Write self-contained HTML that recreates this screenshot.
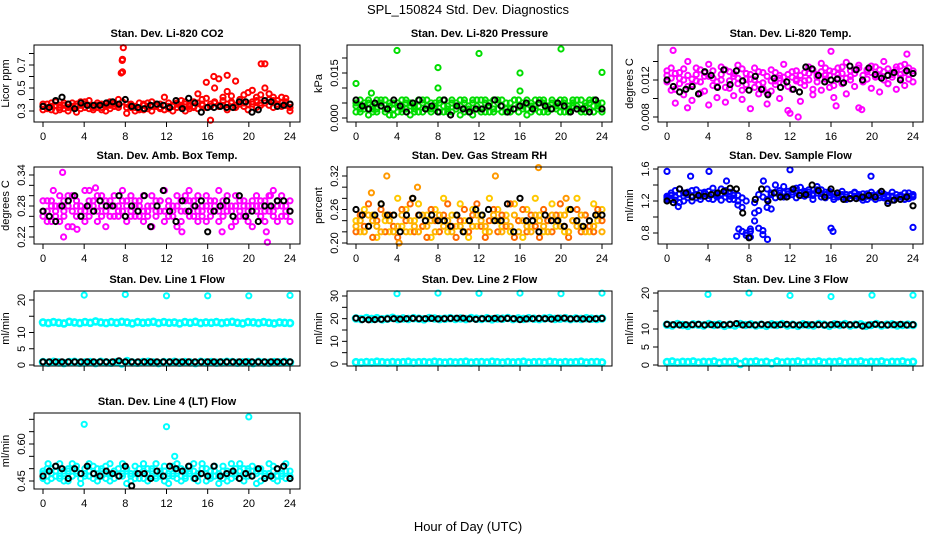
<!DOCTYPE html>
<html><head><meta charset="utf-8"><style>
html,body{margin:0;padding:0;background:#fff;}
svg{display:block;font-family:"Liberation Sans",Arial,sans-serif;}
</style></head><body>
<svg id="chart" width="936" height="540" viewBox="0 0 936 540">
<text x="468" y="14" text-anchor="middle" font-size="13">SPL_150824  Std. Dev. Diagnostics</text>
<text x="468" y="531" text-anchor="middle" font-size="13">Hour of Day (UTC)</text>
</svg>
<script>
var xTicks=[0,4,8,12,16,20,24];
// CO2
var co2A=[0.34,0.36,0.31,0.38,0.33,0.35,0.30,0.37,0.34,0.32,0.36,0.39,0.33,0.35,0.31,0.36,0.38,0.34,0.40,0.64,0.36,0.33,0.30,0.37,0.35,0.32,0.38,0.34,0.36,0.31,0.37,0.35,0.33,0.39,0.36,0.32,0.38,0.45,0.40,0.55,0.36,0.50,0.58,0.42,0.47,0.38,0.56,0.40,0.44,0.36,0.48,0.42,0.37,0.50,0.45,0.39,0.36,0.42,0.38,0.33];
var co2B=[0.31,0.33,0.37,0.30,0.35,0.32,0.36,0.33,0.29,0.35,0.38,0.32,0.34,0.37,0.33,0.30,0.35,0.36,0.33,0.75,0.28,0.35,0.33,0.31,0.36,0.34,0.30,0.35,0.33,0.42,0.32,0.34,0.37,0.33,0.30,0.35,0.34,0.32,0.35,0.33,0.22,0.37,0.34,0.35,0.31,0.37,0.33,0.36,0.34,0.31,0.38,0.33,0.35,0.71,0.40,0.33,0.36,0.34,0.41,0.30];
var co2C=[0.36,0.32,0.34,0.35,0.31,0.37,0.33,0.34,0.36,0.38,0.33,0.35,0.31,0.33,0.36,0.34,0.32,0.37,0.35,0.38,0.33,0.36,0.34,0.32,0.31,0.37,0.34,0.36,0.32,0.35,0.34,0.30,0.36,0.35,0.38,0.34,0.33,0.37,0.36,0.41,0.34,0.38,0.35,0.39,0.36,0.43,0.35,0.38,0.37,0.46,0.36,0.39,0.44,0.37,0.35,0.42,0.39,0.37,0.35,0.36];
var co2OutX=[7.6,7.7,7.8,16.6,17.9,21.2];
var co2OutY=[0.63,0.74,0.85,0.60,0.61,0.71];
var co2Blk=[0.34,0.33,0.39,0.42,0.36,0.32,0.37,0.35,0.35,0.35,0.37,0.38,0.36,0.40,0.34,0.33,0.32,0.35,0.36,0.35,0.33,0.39,0.32,0.41,0.37,0.29,0.33,0.33,0.34,0.33,0.33,0.38,0.38,0.29,0.31,0.39,0.38,0.34,0.35,0.36];
// Pressure
var prA=[0.004,0.006,0.003,0.005,0.002,0.006,0.004,0.003,0.005,0.001,0.004,0.006,0.003,0.005,0.002,0.004,0.006,0.003,0.005,0.004,0.002,0.006,0.003,0.005,0.004,0.001,0.006,0.003,0.005,0.004,0.006,0.002,0.005,0.003,0.006,0.004,0.002,0.005,0.003,0.006,0.004,0.001,0.005,0.003,0.006,0.002,0.004,0.005,0.003,0.006,0.002,0.004,0.005,0.003,0.006,0.002,0.005,0.004,0.003,0.005];
var prB=[0.002,0.003,0.005,0.001,0.004,0.003,0.006,0.002,0.004,0.005,0.002,0.003,0.005,0.001,0.004,0.006,0.002,0.004,0.003,0.005,0.006,0.002,0.004,0.002,0.005,0.006,0.002,0.004,0.001,0.006,0.003,0.005,0.002,0.006,0.003,0.002,0.005,0.003,0.006,0.002,0.005,0.003,0.004,0.006,0.002,0.005,0.003,0.006,0.004,0.002,0.005,0.003,0.006,0.004,0.002,0.005,0.003,0.006,0.004,0.002];
var prC=[0.005,0.002,0.004,0.006,0.003,0.002,0.005,0.006,0.001,0.003,0.005,0.002,0.006,0.004,0.003,0.002,0.005,0.006,0.002,0.003,0.005,0.004,0.002,0.006,0.003,0.004,0.005,0.002,0.006,0.003,0.002,0.006,0.004,0.002,0.005,0.006,0.003,0.002,0.006,0.004,0.003,0.006,0.002,0.004,0.005,0.006,0.002,0.003,0.005,0.004,0.006,0.002,0.004,0.006,0.003,0.004,0.006,0.002,0.005,0.003];
var prOutX=[0,4,8,8,12,16,16,20,24,1.5];
var prOutY=[0.0115,0.0225,0.0168,0.0100,0.0215,0.0150,0.0090,0.0230,0.0152,0.0083];
var prBlk=[0.006,0.004,0.003,0.005,0.004,0.003,0.006,0.004,0.002,0.005,0.006,0.003,0.004,0.002,0.006,0.001,0.004,0.003,0.002,0.003,0.003,0.004,0.006,0.004,0.002,0.003,0.004,0.005,0.003,0.005,0.004,0.003,0.005,0.004,0.002,0.003,0.003,0.002,0.006,0.003];
// Li-820 Temp
var tpA=[0.0125,0.0133,0.0110,0.0128,0.0120,0.0140,0.0115,0.0126,0.0131,0.0108,0.0137,0.0122,0.0118,0.0134,0.0112,0.0129,0.0124,0.0136,0.0109,0.0127,0.0121,0.0133,0.0115,0.0128,0.0106,0.0131,0.0119,0.0125,0.0137,0.0113,0.0123,0.0130,0.0117,0.0128,0.0134,0.0110,0.0126,0.0138,0.0121,0.0130,0.0114,0.0133,0.0127,0.0139,0.0120,0.0131,0.0136,0.0118,0.0129,0.0135,0.0123,0.0131,0.0140,0.0116,0.0128,0.0134,0.0122,0.0137,0.0126,0.0130];
var tpB=[0.0118,0.0109,0.0095,0.0122,0.0104,0.0113,0.0098,0.0119,0.0106,0.0124,0.0093,0.0114,0.0101,0.0120,0.0096,0.0111,0.0103,0.0116,0.0099,0.0121,0.0089,0.0112,0.0105,0.0117,0.0094,0.0108,0.0115,0.0100,0.0123,0.0087,0.0110,0.0119,0.0097,0.0114,0.0120,0.0104,0.0118,0.0109,0.0125,0.0112,0.0101,0.0122,0.0116,0.0105,0.0124,0.0113,0.0090,0.0119,0.0121,0.0111,0.0125,0.0107,0.0120,0.0116,0.0123,0.0110,0.0126,0.0114,0.0121,0.0118];
var tpC=[0.0130,0.0122,0.0127,0.0116,0.0132,0.0125,0.0121,0.0133,0.0118,0.0128,0.0124,0.0130,0.0113,0.0126,0.0131,0.0119,0.0127,0.0122,0.0132,0.0115,0.0126,0.0120,0.0129,0.0111,0.0124,0.0119,0.0128,0.0122,0.0116,0.0126,0.0129,0.0121,0.0125,0.0119,0.0127,0.0131,0.0123,0.0129,0.0133,0.0125,0.0129,0.0126,0.0134,0.0122,0.0130,0.0127,0.0133,0.0125,0.0131,0.0128,0.0134,0.0124,0.0129,0.0132,0.0126,0.0131,0.0135,0.0128,0.0133,0.0127];
var tpOutX=[0.6,2,12,12.8,16,16.5,19,23.4];
var tpOutY=[0.0152,0.0090,0.0084,0.0080,0.0151,0.0092,0.0088,0.0148];
var tpBlk=[0.0120,0.0113,0.0107,0.0110,0.0113,0.0105,0.0129,0.0125,0.0112,0.0131,0.0115,0.0130,0.0119,0.0109,0.0124,0.0110,0.0104,0.0122,0.0112,0.0118,0.0110,0.0107,0.0134,0.0132,0.0125,0.0118,0.0120,0.0121,0.0117,0.0135,0.0131,0.0120,0.0133,0.0126,0.0122,0.0125,0.0128,0.0120,0.0130,0.0127];
// Amb Box Temp
var abA=[0.27,0.29,0.25,0.28,0.30,0.26,0.28,0.24,0.29,0.27,0.31,0.26,0.28,0.25,0.30,0.27,0.29,0.26,0.28,0.31,0.25,0.27,0.29,0.26,0.30,0.28,0.24,0.29,0.27,0.31,0.26,0.28,0.30,0.25,0.27,0.29,0.26,0.30,0.28,0.25,0.29,0.27,0.31,0.26,0.28,0.24,0.30,0.27,0.29,0.25,0.28,0.30,0.26,0.29,0.27,0.31,0.25,0.28,0.26,0.29];
var abB=[0.26,0.25,0.29,0.27,0.25,0.29,0.24,0.30,0.26,0.28,0.25,0.29,0.27,0.30,0.26,0.24,0.28,0.30,0.26,0.27,0.29,0.30,0.26,0.28,0.25,0.27,0.30,0.26,0.29,0.25,0.28,0.26,0.24,0.29,0.30,0.26,0.28,0.25,0.27,0.30,0.26,0.29,0.25,0.28,0.30,0.27,0.25,0.29,0.26,0.28,0.24,0.27,0.29,0.25,0.30,0.26,0.28,0.30,0.27,0.25];
var abC=[0.29,0.27,0.28,0.26,0.28,0.27,0.30,0.27,0.28,0.26,0.27,0.28,0.29,0.27,0.28,0.29,0.26,0.28,0.27,0.29,0.28,0.26,0.28,0.29,0.27,0.26,0.28,0.27,0.29,0.27,0.29,0.27,0.28,0.27,0.29,0.27,0.29,0.27,0.26,0.28,0.27,0.28,0.27,0.29,0.27,0.28,0.28,0.26,0.28,0.27,0.29,0.28,0.28,0.27,0.28,0.27,0.29,0.26,0.28,0.27];
var abOutX=[1.0,1.9,2.0,4.5,5.1,3.3,13.5,14.2,17.4,21.8,21.7,22.1];
var abOutY=[0.31,0.345,0.22,0.31,0.315,0.235,0.23,0.31,0.23,0.21,0.23,0.30];
var abBlk=[0.27,0.26,0.25,0.28,0.29,0.30,0.26,0.28,0.27,0.29,0.28,0.28,0.30,0.26,0.28,0.27,0.30,0.24,0.28,0.31,0.27,0.25,0.29,0.27,0.28,0.29,0.23,0.27,0.28,0.29,0.26,0.30,0.26,0.27,0.25,0.28,0.28,0.29,0.29,0.27];
// Gas Stream RH
var rhA=[0.24,0.22,0.26,0.23,0.25,0.21,0.27,0.24,0.22,0.25,0.28,0.23,0.26,0.22,0.24,0.27,0.23,0.25,0.21,0.26,0.24,0.28,0.22,0.25,0.23,0.27,0.24,0.21,0.26,0.23,0.25,0.22,0.28,0.24,0.26,0.23,0.25,0.22,0.27,0.24,0.21,0.26,0.23,0.28,0.25,0.22,0.24,0.27,0.23,0.25,0.22,0.26,0.24,0.28,0.23,0.25,0.22,0.27,0.24,0.26];
var rhB=[0.22,0.25,0.23,0.27,0.21,0.24,0.26,0.22,0.25,0.23,0.21,0.26,0.24,0.27,0.22,0.25,0.23,0.21,0.26,0.24,0.22,0.25,0.27,0.23,0.21,0.24,0.26,0.22,0.25,0.27,0.23,0.21,0.24,0.26,0.22,0.25,0.23,0.27,0.21,0.24,0.26,0.22,0.25,0.23,0.21,0.26,0.24,0.22,0.25,0.27,0.23,0.21,0.24,0.26,0.22,0.25,0.23,0.22,0.26,0.24];
var rhC=[0.23,0.24,0.22,0.25,0.24,0.23,0.22,0.25,0.24,0.22,0.23,0.25,0.22,0.24,0.23,0.22,0.25,0.23,0.24,0.22,0.25,0.23,0.24,0.22,0.25,0.23,0.22,0.24,0.23,0.25,0.24,0.23,0.22,0.25,0.24,0.22,0.24,0.23,0.25,0.22,0.24,0.23,0.22,0.25,0.24,0.23,0.22,0.25,0.24,0.23,0.25,0.22,0.24,0.23,0.25,0.22,0.24,0.23,0.25,0.22];
var rhOutX=[1.5,3.0,4.2,5.5,6.0,13.6,17.8,20.5];
var rhOutY=[0.29,0.32,0.20,0.28,0.30,0.32,0.335,0.28];
var rhBlk=[0.26,0.25,0.23,0.25,0.27,0.25,0.25,0.22,0.25,0.28,0.25,0.24,0.25,0.24,0.24,0.23,0.25,0.22,0.24,0.26,0.25,0.26,0.24,0.24,0.27,0.22,0.28,0.24,0.24,0.22,0.25,0.24,0.24,0.23,0.26,0.24,0.23,0.24,0.25,0.25];
// Sample Flow
var sfA=[1.22,1.30,1.25,1.35,1.20,1.28,1.33,1.24,1.30,1.26,1.32,1.22,1.29,1.35,1.25,1.31,1.27,1.20,1.12,0.80,0.75,0.95,1.28,0.78,1.35,1.10,1.40,1.30,1.25,1.32,1.28,1.36,1.30,1.26,1.34,1.29,1.38,1.25,1.31,1.27,1.22,1.30,1.25,1.28,1.23,1.30,1.26,1.21,1.29,1.25,1.22,1.30,1.24,1.27,1.21,1.28,1.25,1.30,1.23,1.27];
var sfB=[1.26,1.22,1.33,1.18,1.30,1.24,1.20,1.34,1.22,1.31,1.23,1.36,1.25,1.21,1.33,1.22,1.30,1.15,0.82,0.77,0.85,1.05,0.86,0.83,1.12,1.30,1.24,1.33,1.38,1.26,1.34,1.24,1.37,1.32,1.28,1.22,1.30,1.34,1.24,1.32,1.29,1.25,1.32,1.22,1.28,1.31,1.24,1.29,1.22,1.31,1.27,1.24,1.29,1.20,1.31,1.24,1.27,1.22,1.30,1.25];
var sfC=[1.24,1.27,1.21,1.29,1.26,1.31,1.25,1.28,1.26,1.29,1.27,1.30,1.27,1.29,1.30,1.26,1.22,1.27,1.24,1.20,0.82,1.18,1.08,1.25,1.22,1.28,1.31,1.27,1.30,1.29,1.31,1.33,1.27,1.30,1.31,1.27,1.34,1.29,1.28,1.30,1.25,1.27,1.28,1.25,1.27,1.26,1.28,1.24,1.26,1.27,1.25,1.27,1.26,1.25,1.26,1.24,1.27,1.25,1.26,1.28];
var sfOutX=[0,1.1,2.3,4.1,5.8,6.8,9.4,12.0,16,16.2,19.9,24.0,7.0,9.8];
var sfOutY=[1.57,1.13,1.51,1.57,1.45,0.76,1.45,1.59,0.86,0.82,1.51,0.87,0.85,0.72];
var sfBlk=[1.20,1.18,1.35,1.30,1.25,1.27,1.26,1.28,1.30,1.32,1.36,1.35,1.05,0.74,1.22,1.35,1.20,1.30,1.25,1.25,1.35,1.27,1.28,1.40,1.33,1.25,1.35,1.30,1.22,1.23,1.23,1.25,1.27,1.25,1.32,1.17,1.21,1.22,1.25,1.14];
// Line 1
var l1Hi=[13.1,12.9,13.2,13.0,12.8,13.3,13.1,12.9,13.2,13.0,13.4,13.1,12.9,13.2,13.0,13.3,13.1,12.8,13.2,13.0,13.1,13.3,12.9,13.2,13.0,13.1,12.8,13.2,13.0,13.3,12.9,13.1,13.0,13.2,12.9,13.1,13.3,13.0,12.8,13.2,13.1,12.9,13.2,13.0,12.8,13.1,13.0,12.9];
var l1Lo=[0.9,0.7,1.0,0.8,0.6,0.9,1.0,0.7,0.8,0.9,0.6,1.0,0.8,0.7,0.9,0.5,1.2,0.8,0.7,0.9,1.0,0.8,0.6,0.9,0.8,1.0,0.7,0.9,0.8,0.6,1.0,0.8,0.9,0.7,0.8,1.0,0.9,0.7,0.8,0.9,0.6,1.0,0.8,0.7,0.9,0.8,1.0,0.8];
var l1OutX=[4,8,12,16,20,24];
var l1OutY=[21.5,21.7,21.3,21.3,21.3,21.4];
var l1Blk=[1.0,1.0,1.0,1.0,1.0,1.0,1.0,1.0,1.0,1.0,1.0,1.0,1.3,1.0,1.0,1.0,1.0,1.0,1.0,1.0,1.0,1.0,1.0,1.0,1.0,1.0,1.0,1.0,1.0,1.0,1.0,1.0,1.0,1.0,1.0,1.0,1.0,1.0,1.0,1.0];
// Line 2
var l2Hi=[20.1,19.8,20.3,19.9,20.2,19.7,20.0,20.4,19.8,20.1,19.9,20.2,20.0,19.7,20.3,20.1,19.8,20.0,20.2,19.9,20.1,19.8,20.3,20.0,19.9,20.2,19.7,20.1,20.0,20.3,19.8,20.1,19.9,20.2,20.0,19.8,20.1,20.3,19.9,20.0,20.2,19.8,20.1,19.9,20.2,20.0,19.9,20.1];
var l2Lo=[0.8,0.6,0.9,0.7,1.0,0.8,0.6,0.9,0.7,0.8,1.0,0.6,0.8,0.9,0.7,1.0,0.8,0.6,0.9,0.7,0.8,1.0,0.6,0.8,0.9,0.7,1.0,0.8,0.6,0.9,0.7,0.8,1.0,0.6,0.8,0.9,0.7,1.0,0.8,0.6,0.9,0.7,0.8,1.0,0.6,0.8,0.9,0.7];
var l2OutX=[4,8,12,16,20,24];
var l2OutY=[31.0,31.3,31.2,31.3,31.0,31.3];
var l2Blk=[20.2,19.6,19.5,19.6,19.7,19.9,20.0,19.8,20.0,20.1,20.0,20.0,20.1,19.9,20.0,20.1,20.2,20.2,19.9,19.7,20.0,20.0,20.1,19.9,20.1,20.0,19.6,19.9,20.0,20.1,20.0,19.8,20.2,20.2,19.9,20.0,19.9,19.8,20.0,20.1];
// Line 3
var l3Hi=[11.2,11.0,11.4,11.1,10.9,11.3,11.2,11.0,11.4,11.1,11.3,10.9,11.2,11.0,11.4,11.1,11.3,11.0,11.2,10.9,11.3,11.1,11.4,11.0,11.2,10.9,11.3,11.1,11.0,11.4,11.2,10.9,11.3,11.1,11.4,11.0,11.2,11.3,10.9,11.1,11.4,11.0,11.2,11.3,11.0,11.1,11.2,11.1];
var l3Lo=[0.8,1.0,0.7,0.9,0.8,1.0,0.7,0.9,0.8,1.0,0.6,0.9,0.8,1.0,0.3,0.9,0.8,1.0,0.7,0.9,0.5,1.0,0.7,0.9,0.8,1.0,0.7,0.9,0.8,1.0,0.7,0.9,0.8,1.0,0.7,0.9,0.8,1.0,0.7,0.9,0.8,1.0,0.7,0.9,0.8,1.0,0.7,0.9];
var l3OutX=[4,8,12,16,20,24];
var l3OutY=[19.6,20.0,19.3,19.0,19.4,19.4];
var l3Blk=[11.3,11.2,11.1,11.2,11.2,11.3,11.1,11.2,11.1,11.2,11.3,11.5,11.1,11.2,11.1,11.3,11.2,11.1,11.2,11.3,11.2,11.1,11.2,11.2,11.2,11.1,11.2,11.3,11.1,11.2,11.2,10.8,11.1,11.3,11.2,11.1,11.2,11.3,11.1,11.2];
// Line 4 (LT)
var l4A=[0.48,0.50,0.46,0.51,0.47,0.49,0.45,0.52,0.48,0.46,0.50,0.47,0.51,0.45,0.49,0.48,0.52,0.46,0.50,0.47,0.49,0.45,0.51,0.48,0.46,0.50,0.47,0.52,0.49,0.45,0.48,0.51,0.46,0.50,0.47,0.49,0.52,0.45,0.48,0.50,0.46,0.51,0.47,0.49,0.45,0.52,0.48,0.46,0.50,0.47,0.51,0.49,0.45,0.48,0.52,0.46,0.50,0.47,0.49,0.46];
var l4B=[0.46,0.45,0.50,0.47,0.52,0.45,0.49,0.47,0.51,0.44,0.48,0.52,0.46,0.50,0.47,0.51,0.45,0.49,0.47,0.52,0.44,0.48,0.46,0.50,0.52,0.45,0.49,0.46,0.47,0.51,0.44,0.47,0.52,0.45,0.49,0.51,0.46,0.48,0.52,0.45,0.49,0.47,0.44,0.51,0.48,0.46,0.50,0.52,0.45,0.49,0.47,0.44,0.50,0.46,0.48,0.51,0.45,0.49,0.52,0.47];
var l4C=[0.49,0.47,0.48,0.49,0.46,0.48,0.50,0.47,0.49,0.48,0.47,0.49,0.48,0.47,0.50,0.46,0.48,0.49,0.47,0.48,0.50,0.47,0.48,0.46,0.49,0.48,0.50,0.47,0.48,0.49,0.47,0.48,0.49,0.47,0.46,0.48,0.49,0.47,0.50,0.48,0.47,0.49,0.48,0.46,0.49,0.48,0.47,0.49,0.48,0.50,0.47,0.48,0.49,0.47,0.48,0.49,0.47,0.48,0.46,0.49];
var l4OutX=[4,12,12.8,20,0.5];
var l4OutY=[0.68,0.67,0.55,0.71,0.52];
var l4Blk=[0.47,0.49,0.51,0.50,0.46,0.50,0.48,0.51,0.48,0.47,0.49,0.48,0.47,0.51,0.43,0.48,0.48,0.46,0.49,0.47,0.51,0.50,0.49,0.51,0.46,0.48,0.47,0.51,0.47,0.48,0.49,0.46,0.48,0.47,0.50,0.46,0.47,0.50,0.51,0.46];

var NS='http://www.w3.org/2000/svg';
var svg=document.getElementById('chart');
function mk(tag,attrs,parent){var e=document.createElementNS(NS,tag);for(var k in attrs)e.setAttribute(k,attrs[k]);(parent||svg).appendChild(e);return e;}

function panel(p){
  var g=mk('g',{});
  
  
  var bx0=p.box[0],bx1=p.box[1],by0=p.box[2],by1=p.box[3];
  var px0=bx0+9,px1=bx1-10;
  function X(h){return px0+(px1-px0)*h/24;}
  function Y(v){return p.r1[1]+(v-p.r1[0])*(p.r2[1]-p.r1[1])/(p.r2[0]-p.r1[0]);}
  var t=mk('text',{x:(bx0+bx1)/2,y:by0-8,'text-anchor':'middle','font-size':11,'font-weight':'bold'},g);
  t.textContent=p.title;
  
  
  function series(xs,ys,col,r,sw){
    for(var i=0;i<ys.length;i++){
      var h=xs?xs[i]:24*i/(ys.length-1);
      var c=mk('circle',{cx:X(h).toFixed(1),cy:Y(ys[i]).toFixed(1),r:r||2.6,fill:'none',stroke:col,'stroke-width':sw||2},g);
      
      
    }
  }
  p.series.forEach(function(s){series(s.x||null,s.y,s.c,s.r,s.w);});
  var b=mk('rect',{x:bx0,y:by0,width:bx1-bx0,height:by1-by0,fill:'none',stroke:'#000','stroke-width':1},g);
  
  
  mk('line',{x1:X(0),x2:X(24),y1:by1,y2:by1,stroke:'#000'},g);
  xTicks.forEach(function(h){
    mk('line',{x1:X(h),x2:X(h),y1:by1,y2:by1+5,stroke:'#000'},g);
    if(p.xlab){var tl=mk('text',{x:X(h),y:by1+18,'text-anchor':'middle','font-size':11},g);tl.textContent=h;
      
      }
  });
  mk('line',{x1:bx0,x2:bx0,y1:Y(p.yt[0]),y2:Y(p.yt[p.yt.length-1]),stroke:'#000'},g);
  p.yt.forEach(function(v,i){
    var yy=Y(v);
    mk('line',{x1:bx0-5,x2:bx0,y1:yy,y2:yy,stroke:'#000'},g);
    if(p.yl[i]){var tl=mk('text',{x:bx0-9,y:yy,'text-anchor':'middle','font-size':11,transform:'rotate(-90 '+(bx0-9)+' '+yy+')'},g);tl.textContent=p.yl[i];
      
      }
  });
  var yc=(by0+by1)/2;
  var yt=mk('text',{x:bx0-25,y:yc,'text-anchor':'middle','font-size':11,transform:'rotate(-90 '+(bx0-25)+' '+yc+')'},g);
  yt.textContent=p.ylab;
  
  
}
var C1=[34,300],C2=[347,612],C3=[658,923];
var R1=[45,122],R2=[167,244],R3=[291,366],R4=[413,489];
panel({name:'panel-co2',title:'Stan. Dev. Li-820 CO2',box:C1.concat(R1),r1:[0.3,111],r2:[0.7,65],yt:[0.3,0.4,0.5,0.6,0.7,0.8],yl:['0.3','','0.5','','0.7',''],ylab:'Licor ppm',xlab:true,
 series:[{y:co2A,c:'#ff0000'},{y:co2B,c:'#ff0000'},{y:co2C,c:'#ff0000'},{x:co2OutX,y:co2OutY,c:'#ff0000'},{y:co2Blk,c:'#000'}]});
panel({name:'panel-pressure',title:'Stan. Dev. Li-820 Pressure',box:C2.concat(R1),r1:[0,118],r2:[0.015,73],yt:[0,0.005,0.01,0.015,0.02],yl:['0.000','','','0.015',''],ylab:'kPa',xlab:true,
 series:[{y:prA,c:'#00dd00'},{y:prB,c:'#00dd00'},{y:prC,c:'#00dd00'},{x:prOutX,y:prOutY,c:'#00dd00'},{y:prBlk,c:'#000'}]});
panel({name:'panel-li820-temp',title:'Stan. Dev. Li-820 Temp.',box:C3.concat(R1),r1:[0.008,117],r2:[0.012,80],yt:[0.008,0.010,0.012,0.014],yl:['0.008','','0.012',''],ylab:'degrees C',xlab:true,
 series:[{y:tpA,c:'#ff00ff'},{y:tpB,c:'#ff00ff'},{y:tpC,c:'#ff00ff'},{x:tpOutX,y:tpOutY,c:'#ff00ff'},{y:tpBlk,c:'#000'}]});
panel({name:'panel-amb-box-temp',title:'Stan. Dev. Amb. Box Temp.',box:C1.concat(R2),r1:[0.22,237],r2:[0.34,175],yt:[0.22,0.24,0.26,0.28,0.30,0.32,0.34],yl:['0.22','','','0.28','','','0.34'],ylab:'degrees C',xlab:true,
 series:[{y:abA,c:'#ff00ff'},{y:abB,c:'#ff00ff'},{y:abC,c:'#ff00ff'},{x:abOutX,y:abOutY,c:'#ff00ff'},{y:abBlk,c:'#000'}]});
panel({name:'panel-gas-stream-rh',title:'Stan. Dev. Gas Stream RH',box:C2.concat(R2),r1:[0.20,243],r2:[0.32,176],yt:[0.20,0.22,0.24,0.26,0.28,0.30,0.32],yl:['0.20','','','0.26','','','0.32'],ylab:'percent',xlab:true,
 series:[{y:rhA,c:'#ffc800'},{y:rhB,c:'#ff6a00'},{y:rhC,c:'#ffb000'},{x:rhOutX,y:rhOutY,c:'#ff9900'},{y:rhBlk,c:'#000'}]});
panel({name:'panel-sample-flow',title:'Stan. Dev. Sample Flow',box:C3.concat(R2),r1:[0.8,233],r2:[1.6,169],yt:[0.8,1.0,1.2,1.4,1.6],yl:['0.8','','1.2','','1.6'],ylab:'ml/min',xlab:true,
 series:[{y:sfA,c:'#0000ff'},{y:sfB,c:'#0000ff'},{y:sfC,c:'#0000ff'},{x:sfOutX,y:sfOutY,c:'#0000ff'},{y:sfBlk,c:'#000'}]});
panel({name:'panel-line1-flow',title:'Stan. Dev. Line 1 Flow',box:C1.concat(R3),r1:[0,365],r2:[20,300],yt:[0,5,10,15,20],yl:['0','5','10','','20'],ylab:'ml/min',xlab:false,
 series:[{y:l1Hi,c:'#00ffff',r:3,w:2.6},{y:l1Lo,c:'#00ffff',r:3,w:2.6},{x:l1OutX,y:l1OutY,c:'#00ffff'},{y:l1Blk,c:'#000'}]});
panel({name:'panel-line2-flow',title:'Stan. Dev. Line 2 Flow',box:C2.concat(R3),r1:[0,364],r2:[30,296],yt:[0,5,10,15,20,25,30],yl:['0','','10','','20','','30'],ylab:'ml/min',xlab:false,
 series:[{y:l2Hi,c:'#00ffff',r:3,w:2.6},{y:l2Lo,c:'#00ffff',r:3,w:2.6},{x:l2OutX,y:l2OutY,c:'#00ffff'},{y:l2Blk,c:'#000'}]});
panel({name:'panel-line3-flow',title:'Stan. Dev. Line 3 Flow',box:C3.concat(R3),r1:[0,365],r2:[20,293],yt:[0,5,10,15,20],yl:['0','5','10','','20'],ylab:'ml/min',xlab:false,
 series:[{y:l3Hi,c:'#00ffff',r:3,w:2.6},{y:l3Lo,c:'#00ffff',r:3,w:2.6},{x:l3OutX,y:l3OutY,c:'#00ffff'},{y:l3Blk,c:'#000'}]});
panel({name:'panel-line4-flow',title:'Stan. Dev. Line 4 (LT) Flow',box:C1.concat(R4),r1:[0.45,481],r2:[0.60,444],yt:[0.45,0.50,0.55,0.60,0.65,0.70],yl:['0.45','','','0.60','',''],ylab:'ml/min',xlab:true,
 series:[{y:l4A,c:'#00ffff'},{y:l4B,c:'#00ffff'},{y:l4C,c:'#00ffff'},{x:l4OutX,y:l4OutY,c:'#00ffff'},{y:l4Blk,c:'#000'}]});
</script>
</body></html>
